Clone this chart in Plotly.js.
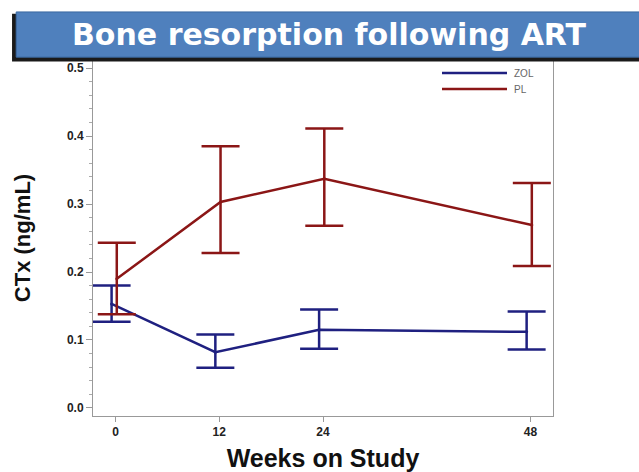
<!DOCTYPE html>
<html><head><meta charset="utf-8">
<script src="https://cdn.plot.ly/plotly-3.0.1.min.js"></script>
<style>body{margin:0;background:#fff}#chart{width:639px;height:472px}</style>
</head><body><div id="chart"></div>
<script>
const weeks = [0, 12, 24, 48];
const seriesNames = ['ZOL', 'PL'];
const zolMean = [0.153, 0.082, 0.115, 0.112];
const zolUpper = [0.180, 0.108, 0.145, 0.142];
const zolLower = [0.127, 0.059, 0.087, 0.086];
const plMean = [0.190, 0.303, 0.337, 0.269];
const plUpper = [0.243, 0.385, 0.411, 0.331];
const plLower = [0.138, 0.228, 0.268, 0.209];
const xTickLabels = ['0', '12', '24', '48'];
const yTickVals = [0.0, 0.1, 0.2, 0.3, 0.4, 0.5];
const yTickLabels = ['0.0', '0.1', '0.2', '0.3', '0.4', '0.5'];

const colors = ['#1f2080', '#8b1616'];
function trace(name, mean, up, lo, color, off) {
  return {
    type: 'scatter', mode: 'lines+markers', name: name, showlegend: false,
    x: weeks.map(w => w + off), y: mean,
    line: {color: color, width: 2.5},
    marker: {color: color, size: 3},
    error_y: {type: 'data', symmetric: false,
      array: up.map((u, i) => u - mean[i]),
      arrayminus: lo.map((l, i) => mean[i] - l),
      color: color, thickness: 2.5, width: 19}
  };
}
const data = [
  trace(seriesNames[0], zolMean, zolUpper, zolLower, colors[0], -0.45),
  trace(seriesNames[1], plMean, plUpper, plLower, colors[1], 0.15)
];
// legend drawn in paper coords (plot area: x 93..553, y 60..416)
const px = x => (x - 93) / 460, py = y => (416 - y) / 356;
const legendShapes = seriesNames.map((n, i) => ({type: 'line', xref: 'paper', yref: 'paper',
  x0: px(442), x1: px(507), y0: py(73 + 16 * i), y1: py(73 + 16 * i),
  line: {color: colors[i], width: 2.5}}));
const legendText = seriesNames.map((n, i) => ({text: n, xref: 'paper', yref: 'paper',
  x: px(512), y: py(73 + 16 * i), xanchor: 'left', yanchor: 'middle', showarrow: false,
  font: {family: 'Liberation Sans, Arial', size: 10, color: '#666'}}));

const layout = {
  width: 639, height: 472,
  margin: {l: 93, r: 86, t: 60, b: 56},
  paper_bgcolor: '#fff', plot_bgcolor: '#fff',
  showlegend: false,
  xaxis: {range: [-2.6, 50.6], tickvals: weeks, ticktext: xTickLabels,
    showgrid: false, zeroline: false, showline: true, linecolor: '#999', linewidth: 1, mirror: true,
    ticks: 'outside', ticklen: 5, tickcolor: '#999',
    tickfont: {family: 'Liberation Sans, Arial', size: 12, color: '#222', weight: 'bold'},
    title: {text: 'Weeks on Study', standoff: 12,
      font: {family: 'Liberation Sans, Arial', size: 25, color: '#111', weight: 'bold'}}},
  yaxis: {range: [-0.0118, 0.5118], tickvals: yTickVals, ticktext: yTickLabels,
    showgrid: false, zeroline: false, showline: true, linecolor: '#999', linewidth: 1, mirror: true,
    ticks: 'outside', ticklen: 6, tickcolor: '#999',
    minor: {dtick: 0.02, ticks: 'outside', ticklen: 3, tickcolor: '#aaa', showgrid: false},
    tickfont: {family: 'Liberation Sans, Arial', size: 12, color: '#222', weight: 'bold'},
    title: {text: 'CTx (ng/mL)', standoff: 30,
      font: {family: 'Liberation Sans, Arial', size: 22, color: '#111', weight: 'bold'}}},
  shapes: [
    {type: 'rect', xref: 'paper', yref: 'paper', x0: -0.176, x1: 1.2, y0: 0.996, y1: 1.13,
      fillcolor: '#1a1a1a', line: {width: 0}, layer: 'above'},
    {type: 'rect', xref: 'paper', yref: 'paper', x0: -0.167, x1: 1.2, y0: 1.008, y1: 1.135,
      fillcolor: '#4f80bd', line: {color: '#3a68a0', width: 1}, layer: 'above'}
  ].concat(legendShapes),
  annotations: [
    {text: 'Bone resorption following ART', xref: 'paper', yref: 'paper',
      x: 0.515, y: 1.072, xanchor: 'center', yanchor: 'middle', showarrow: false,
      font: {family: 'DejaVu Sans', size: 30, color: '#fff', weight: 'bold'}}
  ].concat(legendText)
};
Plotly.newPlot('chart', data, layout, {displayModeBar: false, staticPlot: true});
</script></body></html>
